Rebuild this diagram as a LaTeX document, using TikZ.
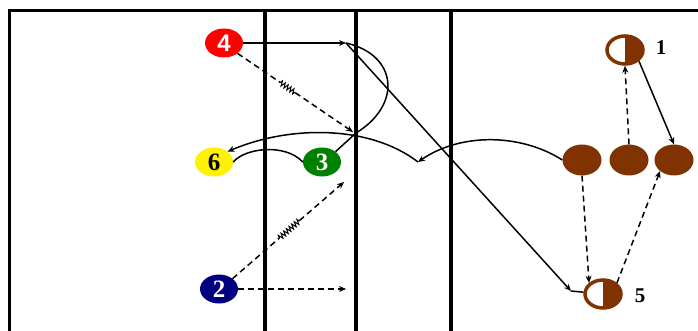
\documentclass[tikz,border=0pt]{standalone}
\usepackage{fontspec}
\setmainfont{Liberation Serif}
\newfontfamily\numsans{Liberation Sans}
\usetikzlibrary{shapes.geometric,arrows.meta,decorations.pathmorphing,calc}
\definecolor{ballbrown}{RGB}{128,51,0}
\definecolor{navyblue}{RGB}{0,0,128}
\definecolor{darkgreen}{RGB}{0,128,0}
\tikzset{
  player/.style={ellipse,minimum width=38pt,minimum height=29pt,inner sep=0pt,
    font=\fontsize{25}{25}\selectfont\bfseries},
  brownball/.style={ellipse,fill=ballbrown,minimum width=39pt,minimum height=31pt,inner sep=0pt},
  halfbrown/.style={ellipse,draw=ballbrown,line width=3.5pt,fill=white,
    minimum width=36pt,minimum height=28pt,inner sep=0pt,
    path picture={\fill[ballbrown] (path picture bounding box.north) rectangle (path picture bounding box.south east);}},
  tag/.style={font=\fontsize{21}{21}\selectfont\bfseries},
  run/.style={line width=1.5pt,-{Stealth[length=7pt,width=6pt]}},
  pass/.style={run,dashed,dash pattern=on 6pt off 4pt},
  wiggle/.style={line width=1pt,decorate,decoration={zigzag,amplitude=2.5pt,segment length=3.5pt}}
}
\begin{document}
\begin{tikzpicture}[x=1pt,y=-1pt]
  \useasboundingbox (0,0) rectangle (698,331);
  % frame and court lines
  \draw[line width=3pt] (9,331) -- (9,11) -- (698,11);
  \foreach \x in {265,356,451} \draw[line width=3.2pt] (\x,11) -- (\x,331);
  % players
  \node[player,fill=red,text=white,font=\fontsize{24}{24}\selectfont\bfseries\numsans] (p4) at (224,43) {4};
  \node[player,fill=yellow] (p6) at (214,162) {6};
  \node[player,fill=darkgreen,text=white] (p3) at (322,162) {3};
  \node[player,fill=navyblue,text=white] (p2) at (219,289) {2};
  % opponents
  \node[halfbrown] (p1) at (625,50) {};
  \node[tag] (lab1) at (661,48) {1};
  \node[brownball] (b1) at (582,160) {};
  \node[brownball] (b2) at (629,160) {};
  \node[brownball] (b3) at (674,160) {};
  \node[halfbrown] (p5) at (603,294) {};
  \node[tag] (lab5) at (640,296) {5};
  % turning points
  \coordinate (c4) at (346,43);
  \coordinate (t4) at (353,132);
  \coordinate (t2) at (344,182);
  \coordinate (h2) at (346,289);
  \coordinate (m5) at (571,291);
  \coordinate (mid) at (418,162);
  % 4: run to the line, then across to 5
  \draw[run] (p4) -- (c4);
  \draw[run] (c4) -- (m5);
  \draw[line width=1.5pt] (m5) -- (p5);
  % 3 curls up to the corner
  \draw[line width=1.5pt] (p3.north east) -- (356,133) .. controls (402,105) and (398,55) .. (c4);
  % 6 to 3
  \draw[line width=1.5pt] (p6.east) .. controls (245,148) and (285,143) .. (p3.west);
  % 4 dashed with wiggle
  \draw[line width=1.5pt,dashed,dash pattern=on 6pt off 4pt] (p4.south east) -- ($(p4.south east)!0.37!(t4)$);
  \draw[wiggle] ($(p4.south east)!0.37!(t4)$) -- ($(p4.south east)!0.5!(t4)$);
  \draw[pass] ($(p4.south east)!0.5!(t4)$) -- (t4);
  % 2 dashed with wiggle, and straight
  \draw[line width=1.5pt,dashed,dash pattern=on 6pt off 4pt] (p2.north east) -- ($(p2.north east)!0.42!(t2)$);
  \draw[wiggle] ($(p2.north east)!0.42!(t2)$) -- ($(p2.north east)!0.6!(t2)$);
  \draw[pass] ($(p2.north east)!0.6!(t2)$) -- (t2);
  \draw[pass] (p2.east) -- (h2);
  % ball from the right back to 6
  \draw[run] (b1.west) .. controls (520,133) and (460,133) .. (mid);
  \draw[run] (mid) .. controls (370,125) and (290,125) .. (p6.north east);
  % right side moves
  \draw[run] (p1.south east) -- (b3.north);
  \draw[pass] (b2.north) -- (p1.south);
  \draw[pass] (b1.south) -- (p5.north west);
  \draw[pass] (p5.north east) -- (b3.south west);
\end{tikzpicture}
\end{document}
